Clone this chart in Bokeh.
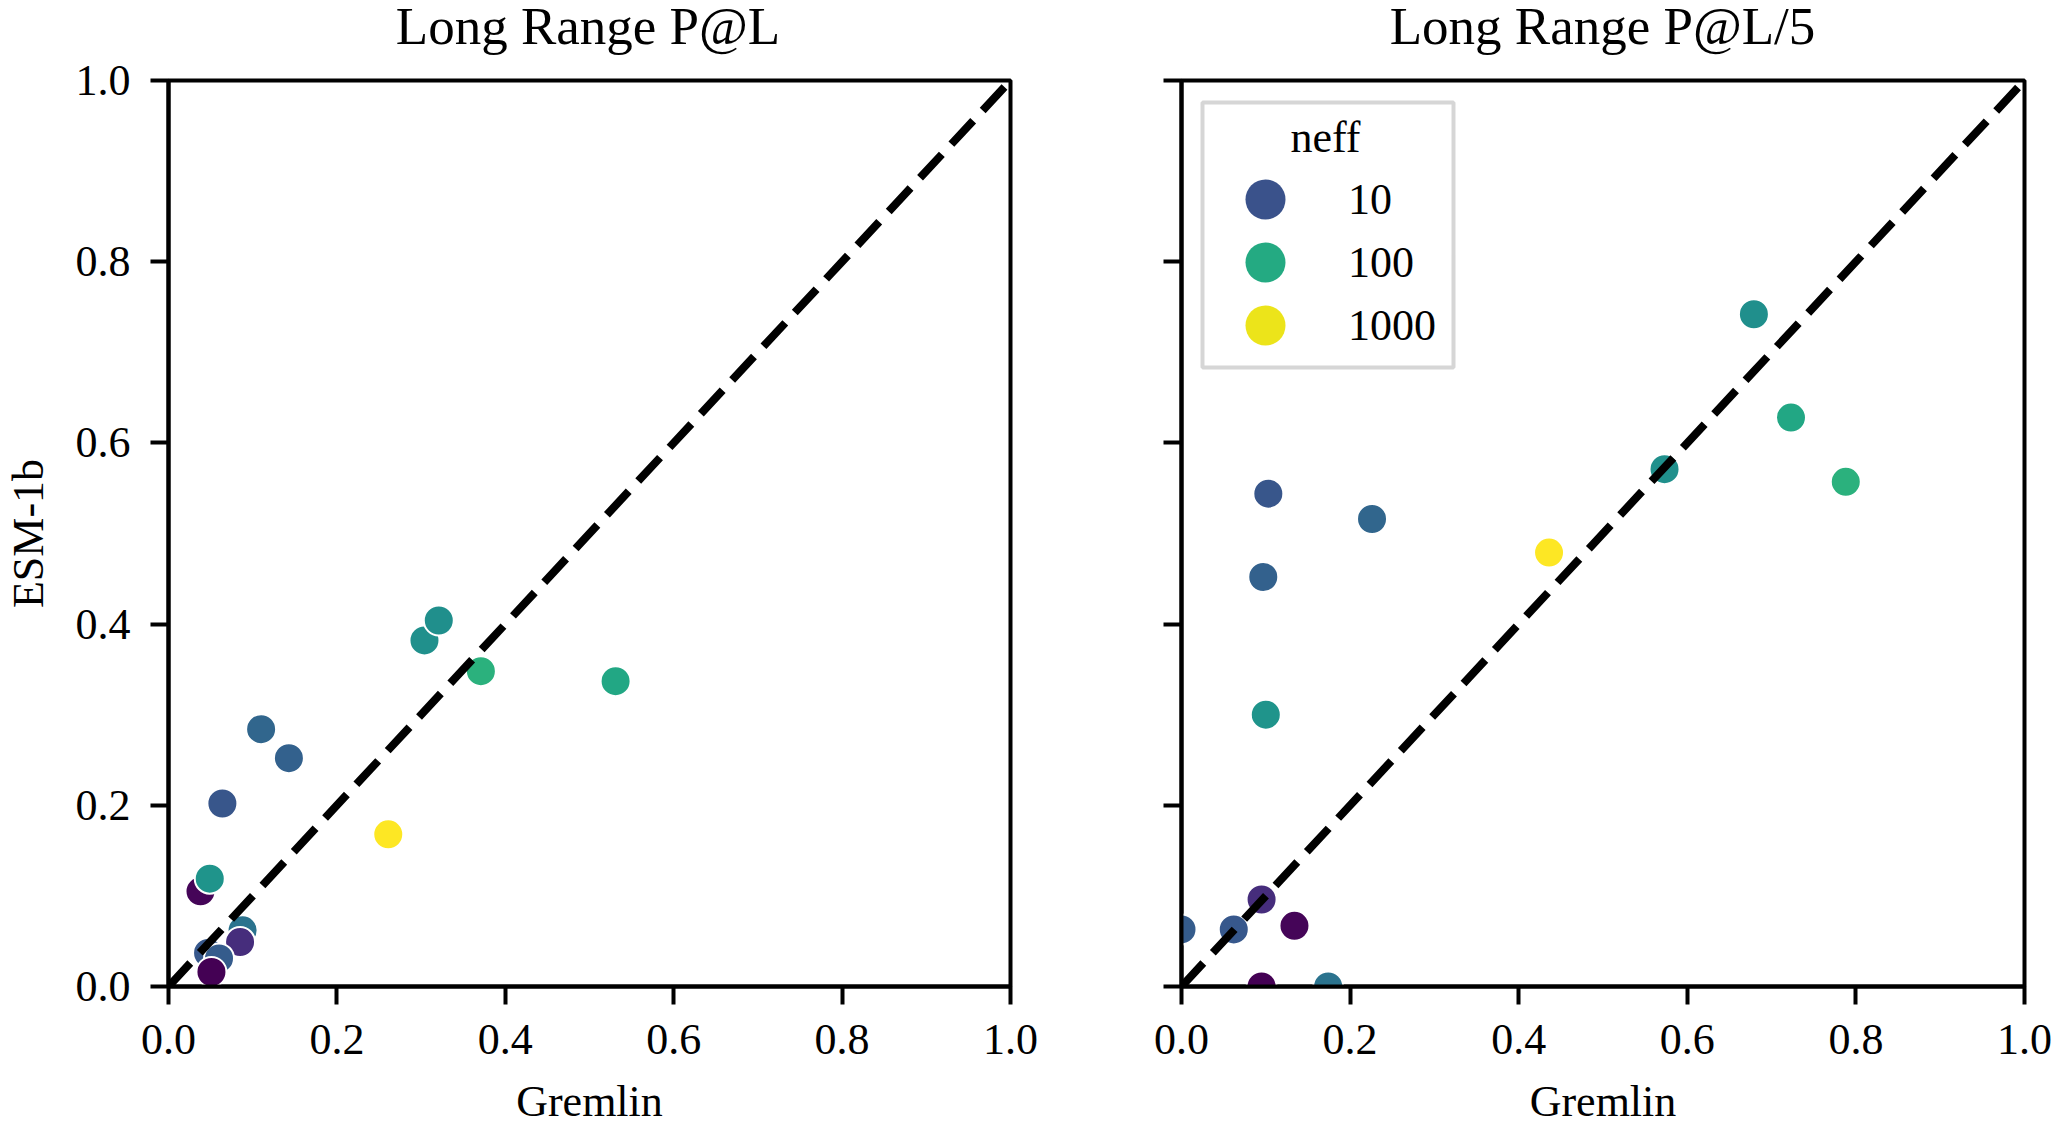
import math
from bokeh.plotting import figure
from bokeh.models import (ColumnDataSource, Range1d, FixedTicker, PrintfTickFormatter,
                          CustomJSTickFormatter, Legend, LegendItem, LogColorMapper, Label,
                          BoxAnnotation, Div)
from bokeh.palettes import Viridis256
from bokeh.layouts import row, column
from bokeh.embed import file_html
from bokeh.resources import INLINE

# ---------------- data ----------------
titles = ["Long Range P@L", "Long Range P@L/5"]
x_label = "Gremlin"
y_label = "ESM-1b"
neff = [23, 4.6, 11.5, 13, 2.0, 2.2, 55, 11, 16.5, 14.5, 1200, 50, 48, 120, 93]
gremlin_pl = [0.088, 0.085, 0.047, 0.060, 0.051, 0.038, 0.049, 0.064, 0.110, 0.143,
              0.261, 0.304, 0.321, 0.371, 0.531]
esm_pl = [0.062, 0.049, 0.037, 0.031, 0.016, 0.105, 0.119, 0.202, 0.284, 0.252,
          0.168, 0.382, 0.404, 0.348, 0.337]
gremlin_pl5 = [0.174, 0.095, 0.062, 0.000, 0.095, 0.134, 0.100, 0.103, 0.226, 0.097,
               0.436, 0.573, 0.679, 0.788, 0.723]
esm_pl5 = [0.000, 0.096, 0.063, 0.063, 0.000, 0.067, 0.300, 0.544, 0.516, 0.452,
           0.479, 0.571, 0.742, 0.557, 0.628]
legend_neff = [10, 100, 1000]
legend_title = "neff"
ticks = [0.0, 0.2, 0.4, 0.6, 0.8, 1.0]
diag = [0.0, 1.0]

FONT = "Liberation Serif"
TICK_FS = "44px"
TITLE_FS = "53px"

TITLE_H = 56
TOP_BORDER = 80 - TITLE_H
mapper = LogColorMapper(palette=Viridis256, low=2, high=1200)


def make_fig(width, b_left, b_right, gx, gy, show_ylabels):
    p = figure(width=width, height=1128 - TITLE_H, x_range=Range1d(0, 1),
               y_range=Range1d(0, 1), output_backend="svg", toolbar_location=None,
               min_border_left=b_left, min_border_right=b_right,
               min_border_top=TOP_BORDER, min_border_bottom=142)
    p.title.text = ""
    p.background_fill_color = "white"
    p.border_fill_color = "white"
    p.border_fill_alpha = 0.0
    p.outline_line_color = "black"
    p.outline_line_width = 4
    p.xgrid.visible = False
    p.ygrid.visible = False

    for ax in (p.xaxis[0], p.yaxis[0]):
        ax.ticker = FixedTicker(ticks=ticks)
        ax.formatter = PrintfTickFormatter(format="%.1f")
        ax.axis_line_width = 4
        ax.axis_line_color = "black"
        ax.major_tick_line_width = 4
        ax.major_tick_line_color = "black"
        ax.major_tick_out = 18
        ax.major_tick_in = 0
        ax.minor_tick_line_color = None
        ax.major_label_text_font = FONT
        ax.major_label_text_font_size = TICK_FS
        ax.major_label_text_color = "black"
        ax.axis_label_text_font = FONT
        ax.axis_label_text_font_size = TICK_FS
        ax.axis_label_text_font_style = "normal"
        ax.axis_label_text_color = "black"

    p.xaxis.major_label_standoff = 20
    p.xaxis.axis_label_standoff = 20
    p.xaxis.axis_label = x_label
    p.yaxis.major_label_standoff = 20
    p.yaxis.axis_label_standoff = 20
    if show_ylabels:
        p.yaxis.axis_label = y_label
    else:
        p.yaxis.formatter = CustomJSTickFormatter(code="return ''")

    src = ColumnDataSource(dict(x=gx, y=gy, neff=neff))
    p.scatter("x", "y", source=src, size=30, marker="circle",
              fill_color={"field": "neff", "transform": mapper},
              line_color="white", line_width=2)
    p.line(diag, diag, line_color="black", line_width=8, line_dash="32 14")
    return p


def make_title(text, left, width):
    return Div(text=text, width=width, height=TITLE_H, margin=(0, 0, 0, left),
               styles={"font-family": "'Liberation Serif', serif", "font-size": TITLE_FS,
                       "line-height": TITLE_FS, "text-align": "center", "color": "black",
                       "white-space": "nowrap", "overflow": "visible"})


p1 = make_fig(1100, 166, 90, gremlin_pl, esm_pl, True)
p2 = make_fig(964, 81, 40, gremlin_pl5, esm_pl5, False)

# ---------------- legend (frame-relative screen positions) ----------------
box = BoxAnnotation(left=21, right=272, top=884, bottom=619,
                    left_units="screen", right_units="screen",
                    top_units="screen", bottom_units="screen",
                    fill_color="white", fill_alpha=1.0,
                    line_color="#d6d6d6", line_width=4, line_alpha=1.0)
p2.add_layout(box)

p2.add_layout(Label(x=144, y=849, x_units="screen", y_units="screen", text=legend_title,
                    text_font=FONT, text_font_size=TICK_FS, text_color="black",
                    text_align="center", text_baseline="middle"))

row_offsets = [737, 674, 611]
for v, vy in zip(legend_neff, row_offsets):
    s = ColumnDataSource(dict(x=[math.nan], y=[math.nan], neff=[v]))
    r = p2.scatter("x", "y", source=s, size=30, marker="circle",
                   fill_color={"field": "neff", "transform": mapper},
                   line_color=None)
    lg = Legend(items=[LegendItem(label=str(v), renderers=[r])],
                location=(34, vy), margin=0, padding=0, spacing=0,
                glyph_width=100, glyph_height=100, label_standoff=33,
                label_text_font=FONT, label_text_font_size=TICK_FS,
                label_text_color="black",
                border_line_color=None, background_fill_alpha=0.0)
    p2.add_layout(lg)

t1 = make_title(titles[0], 76, 1024)
t2 = make_title(titles[1], 41, 923)

layout = row(column(t1, p1), column(t2, p2))
open("out.html", "w").write(file_html(layout, INLINE))
